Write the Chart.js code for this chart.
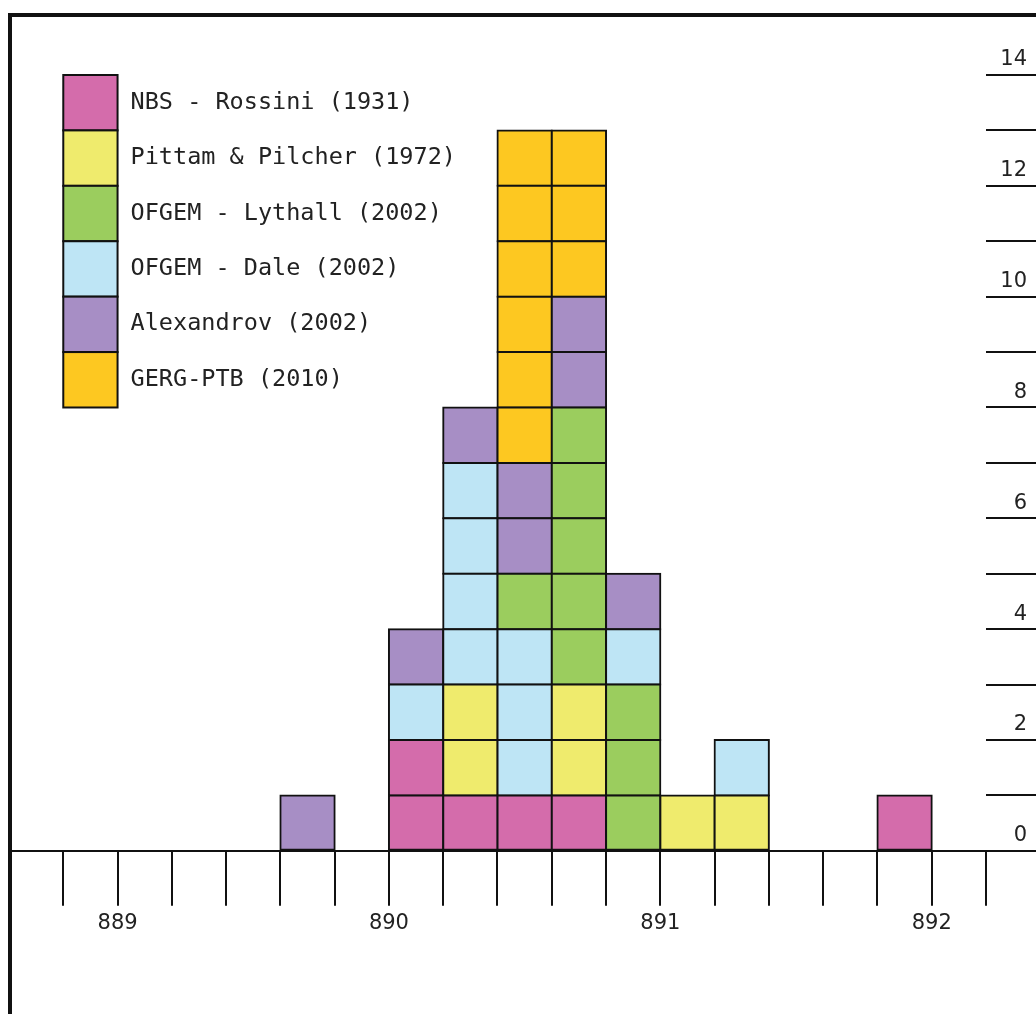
<!DOCTYPE html>
<html>
<head>
<meta charset="utf-8">
<script src="https://cdn.jsdelivr.net/npm/chart.js@4.4.1/dist/chart.umd.min.js"></script>
<style>
  html, body { margin: 0; padding: 0; background: #fff; }
  #wrap { position: relative; width: 1036px; height: 1014px; }
</style>
</head>
<body>
<div id="wrap"><canvas id="chart" width="1036" height="1014"></canvas></div>
<script>
// series (legend order) and their one-letter codes
const seriesKeys = ['N', 'P', 'L', 'D', 'A', 'G'];
const seriesNames = [
  'NBS - Rossini (1931)',
  'Pittam & Pilcher (1972)',
  'OFGEM - Lythall (2002)',
  'OFGEM - Dale (2002)',
  'Alexandrov (2002)',
  'GERG-PTB (2010)'
];
const seriesColors = ['#d46cab', '#efeb6d', '#9bcd5e', '#bee5f5', '#a78ec5', '#fdc821'];

// bin centres (bins are 0.2 wide) and what is stacked in each, bottom to top
const binCenters = [889.7, 890.1, 890.3, 890.5, 890.7, 890.9, 891.1, 891.3, 891.9];
const columnStacks = [
  'A',
  'NNDA',
  'NPPDDDDA',
  'NDDDLAAGGGGGG',
  'NPPLLLLLAAGGG',
  'LLLDA',
  'P',
  'PD',
  'N'
];

const xTickValues = [888.8, 889.0, 889.2, 889.4, 889.6, 889.8, 890.0, 890.2, 890.4,
                     890.6, 890.8, 891.0, 891.2, 891.4, 891.6, 891.8, 892.0, 892.2];
const xTickLabels = ['', '889', '', '', '', '', '890', '', '', '', '', '891', '', '', '', '', '892', ''];
const yTickValues = [0, 1, 2, 3, 4, 5, 6, 7, 8, 9, 10, 11, 12, 13, 14];
const yTickLabels = ['0', '', '2', '', '4', '', '6', '', '8', '', '10', '', '12', '', '14'];

// one dataset per row of cells, so every count is its own square
const colorOf = {};
seriesKeys.forEach((k, i) => { colorOf[k] = seriesColors[i]; });
const rows = Math.max(...columnStacks.map(s => s.length));
const datasets = [];
for (let r = 0; r < rows; r++) {
  const pts = [];
  const cols = [];
  binCenters.forEach((xv, i) => {
    const key = columnStacks[i][r];
    if (key) {
      pts.push({ x: xv, y: 1 });
      cols.push(colorOf[key]);
    }
  });
  datasets.push({
    label: 'row ' + (r + 1),
    data: pts,
    backgroundColor: cols,
    borderColor: '#111',
    borderWidth: 2,
    borderSkipped: false,
    inflateAmount: 1,
    barPercentage: 1,
    categoryPercentage: 1
  });
}

const framePlugin = {
  id: 'frame',
  beforeDraw(chart) {
    const ctx = chart.ctx;
    ctx.save();
    ctx.fillStyle = '#fff';
    ctx.fillRect(0, 0, chart.width, chart.height);
    ctx.fillStyle = '#111';
    ctx.fillRect(8, 13, 4, chart.height - 13);
    ctx.fillRect(8, 13, chart.width - 8, 4);
    ctx.restore();
  }
};

const cellLegend = {
  id: 'cellLegend',
  afterDatasetsDraw(chart) {
    const { ctx, scales: { x, y } } = chart;
    const left = x.getPixelForValue(888.8);
    const right = x.getPixelForValue(889.0);
    ctx.save();
    seriesNames.forEach((name, i) => {
      const top = y.getPixelForValue(14 - i);
      const bottom = y.getPixelForValue(13 - i);
      ctx.fillStyle = seriesColors[i];
      ctx.fillRect(left, top, right - left, bottom - top);
      ctx.strokeStyle = '#111';
      ctx.lineWidth = 2;
      ctx.strokeRect(left, top, right - left, bottom - top);
      ctx.fillStyle = '#222';
      ctx.font = '23.5px "DejaVu Sans Mono"';
      ctx.textBaseline = 'middle';
      ctx.textAlign = 'left';
      ctx.fillText(name, right + 13, (top + bottom) / 2);
    });
    ctx.restore();
  }
};

new Chart(document.getElementById('chart'), {
  type: 'bar',
  data: { datasets: datasets },
  options: {
    responsive: false,
    animation: false,
    devicePixelRatio: 1,
    layout: { padding: { left: 9, top: 75, right: 0, bottom: 73 } },
    plugins: {
      legend: { display: false },
      tooltip: { enabled: false }
    },
    scales: {
      x: {
        type: 'linear',
        stacked: true,
        offset: false,
        min: 888.6,
        max: 892.2,
        afterBuildTicks: (scale) => { scale.ticks = xTickValues.map(v => ({ value: v })); },
        grid: { offset: false, drawOnChartArea: false, drawTicks: true, tickLength: 55, color: '#111', lineWidth: 2 },
        border: { display: true, color: '#111', width: 2 },
        ticks: {
          autoSkip: false,
          maxRotation: 0,
          padding: 5,
          color: '#222',
          font: { family: 'DejaVu Sans', size: 21 },
          callback: (v, i) => xTickLabels[i]
        }
      },
      y: {
        position: 'right',
        stacked: true,
        min: 0,
        max: 14,
        afterBuildTicks: (scale) => { scale.ticks = yTickValues.map(v => ({ value: v })); },
        afterFit: (scale) => { scale.width = 50; },
        grid: { drawOnChartArea: false, drawTicks: true, tickLength: 50, color: '#111', lineWidth: 2 },
        border: { display: false },
        ticks: {
          mirror: true,
          padding: 41,
          labelOffset: -15,
          autoSkip: false,
          color: '#222',
          font: { family: 'DejaVu Sans', size: 21 },
          callback: (v, i) => yTickLabels[i]
        }
      }
    }
  },
  plugins: [framePlugin, cellLegend]
});
</script>
</body>
</html>
